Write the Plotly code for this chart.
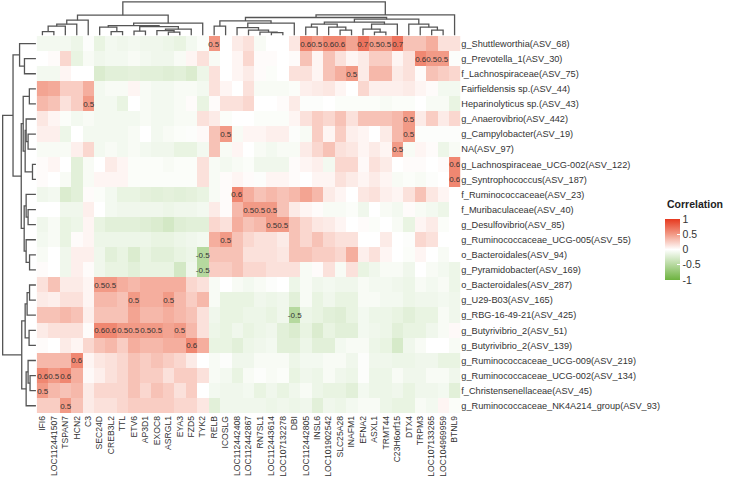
import plotly.graph_objects as go

col_labels = ["IFI6", "LOC112441507", "TSPAN7", "HCN2", "C3", "SEC24D", "CREB3L2", "TTL", "ETV6",
              "AP3D1", "EXOC8", "ASRGL1", "EYA3", "FZD5", "TYK2", "RELB", "ICOSLG", "LOC112442408",
              "LOC112442867", "RN7SL1", "LOC112443614", "LOC107132278", "DBI", "LOC112442805", "INSL6",
              "LOC101902542", "SLC25A28", "INAFM1", "EFNA2", "ASXL1", "TRMT44", "C23H6orf15", "DTX4",
              "TRPM3", "LOC107133265", "LOC104969959", "BTNL9"]

row_labels = ["g_Shuttleworthia(ASV_68)", "g_Prevotella_1(ASV_30)", "f_Lachnospiraceae(ASV_75)",
              "Fairfieldensis sp.(ASV_44)", "Heparinolyticus sp.(ASV_43)", "g_Anaerovibrio(ASV_442)",
              "g_Campylobacter(ASV_19)", "NA(ASV_97)", "g_Lachnospiraceae_UCG-002(ASV_122)",
              "g_Syntrophococcus(ASV_187)", "f_Ruminococcaceae(ASV_23)", "f_Muribaculaceae(ASV_40)",
              "g_Desulfovibrio(ASV_85)", "g_Ruminococcaceae_UCG-005(ASV_55)", "o_Bacteroidales(ASV_94)",
              "g_Pyramidobacter(ASV_169)", "o_Bacteroidales(ASV_287)", "g_U29-B03(ASV_165)",
              "g_RBG-16-49-21(ASV_425)", "g_Butyrivibrio_2(ASV_51)", "g_Butyrivibrio_2(ASV_139)",
              "g_Ruminococcaceae_UCG-009(ASV_219)", "g_Ruminococcaceae_UCG-002(ASV_134)",
              "f_Christensenellaceae(ASV_45)", "g_Ruminococcaceae_NK4A214_group(ASV_93)"]

r00 = [-0.08,-0.08,-0.08,-0.12,-0.02, -0.15,-0.08,-0.1,-0.08,-0.1,-0.1,-0.12,-0.15,-0.08,-0.03, 0.52, 0.0,0.1,0.15,-0.05,0.0,0.0,0.12, 0.6,0.5,0.6,0.6,0.45, 0.7,0.5,0.5,0.7, 0.3,0.3,0.4,0.15,0.15]
r01 = [0.0,0.02,0.2,-0.15,-0.05, -0.1,-0.08,-0.08,-0.05,-0.08,-0.1,-0.1,-0.05,0.05,0.15, -0.05, 0.0,0.05,0.2,0.02,0.02,0.0,0.02, 0.3,0.05,0.3,0.15,0.05, 0.1,0.25,0.25,0.05, 0.15,0.6,0.5,0.5,-0.02]
r02 = [-0.08,-0.08,0.05,0.0,0.0, -0.25,-0.2,-0.2,-0.18,-0.2,-0.2,-0.22,-0.2,-0.25,-0.12, 0.15, 0.0,0.05,0.1,0.02,-0.03,0.0,0.15, 0.15,0.05,0.3,0.4,0.5, 0.1,0.35,0.35,0.1, 0.15,0.02,0.3,0.25,0.2]
r03 = [0.45,0.42,0.25,0.25,0.4, -0.08,-0.05,-0.05,0.05,-0.05,-0.08,-0.08,-0.05,-0.05,-0.08, 0.15, 0.05,0.0,0.15,-0.05,-0.05,-0.05,-0.03, 0.08,0.1,0.12,0.05,0.0, 0.2,0.08,0.08,0.08, 0.1,0.05,0.02,-0.08,-0.08]
r04 = [0.35,0.3,0.15,0.25,0.5, -0.08,-0.08,-0.15,0.0,-0.05,-0.08,-0.08,-0.05,0.02,-0.15, 0.02, 0.15,0.15,0.2,0.0,0.0,0.02,0.1, -0.02,-0.02,0.0,-0.03,-0.03, -0.03,-0.03,-0.05,-0.03, -0.03,0.0,-0.05,-0.05,-0.15]
r05 = [0.12,0.05,-0.03,-0.08,-0.05, -0.08,-0.08,-0.08,-0.08,-0.05,-0.08,-0.08,-0.05,-0.05,0.15, 0.1, -0.03,0.0,0.0,-0.03,-0.03,-0.03,0.05, 0.15,0.25,0.2,0.3,0.15, 0.3,0.3,0.3,0.35, 0.5,0.1,0.25,0.1,0.2]
r06 = [0.08,0.08,-0.12,0.0,-0.08, -0.08,-0.08,-0.08,-0.05,0.0,-0.08,-0.05,-0.03,-0.02,0.03, 0.3, 0.5,-0.05,0.05,0.05,0.08,0.08,-0.02, -0.05,0.25,0.05,0.25,0.08, 0.05,0.0,0.1,0.35, 0.5,-0.02,-0.02,-0.02,-0.02]
r07 = [-0.05,-0.05,-0.05,0.08,0.2, -0.08,-0.05,-0.08,-0.05,-0.08,-0.1,-0.1,-0.15,-0.15,-0.08, 0.3, -0.05,0.05,0.0,-0.05,-0.08,-0.05,-0.05, 0.1,0.2,0.3,0.15,0.12, 0.05,0.1,0.05,0.5, -0.05,0.05,0.02,-0.12,-0.05]
r08 = [0.02,0.05,0.0,-0.2,-0.05, 0.0,0.1,0.05,-0.03,-0.03,-0.03,-0.05,-0.03,-0.03,0.15, -0.05, -0.08,-0.05,-0.03,-0.1,-0.1,-0.1,0.02, 0.05,0.08,-0.08,0.2,0.2, 0.03,0.15,0.1,0.0, 0.02,0.02,0.0,0.02,0.6]
r09 = [0.02,0.0,-0.05,-0.2,-0.05, 0.05,0.05,0.05,-0.03,-0.03,-0.03,-0.03,-0.03,-0.03,0.15, -0.05, 0.02,0.05,0.02,-0.02,0.05,0.05,0.02, 0.0,0.05,0.05,0.15,0.1, 0.05,0.1,0.05,-0.05, -0.03,-0.05,-0.02,0.0,0.6]
r10 = [-0.1,-0.08,-0.25,-0.2,0.02, -0.03,-0.08,-0.15,-0.15,-0.18,-0.2,-0.18,-0.2,-0.18,-0.15, -0.05, 0.02,0.6,0.4,0.3,0.35,0.3,0.35, 0.45,0.35,0.1,0.05,0.0, 0.12,0.15,0.08,0.05, 0.15,0.3,0.12,0.05,0.0]
r11 = [0.0,0.0,-0.1,-0.1,0.08, 0.0,-0.08,-0.1,-0.1,-0.1,-0.1,-0.12,-0.1,-0.1,-0.08, 0.1, 0.02,0.35,0.5,0.5,0.5,0.3,0.1, 0.05,0.02,-0.05,-0.05,-0.03, -0.1,0.0,-0.05,-0.08, 0.02,-0.05,-0.08,-0.12,0.0]
r12 = [-0.1,-0.05,-0.15,-0.12,0.05, -0.15,-0.2,-0.2,-0.2,-0.22,-0.25,-0.3,-0.22,-0.2,-0.2, 0.2, 0.15,0.4,0.3,0.35,0.5,0.5,0.3, 0.2,0.12,0.1,0.05,0.0, 0.02,-0.03,0.0,-0.05, -0.15,0.05,0.1,-0.03,0.0]
r13 = [-0.08,-0.05,-0.15,0.02,0.05, -0.12,-0.12,-0.12,-0.12,-0.12,-0.15,-0.15,-0.12,-0.1,-0.08, 0.4, 0.5,0.3,0.2,0.15,0.15,0.1,0.3, 0.2,0.3,0.2,0.15,0.15, 0.0,0.0,0.1,0.0, -0.02,0.2,0.15,0.0,0.0]
r14 = [-0.05,0.0,-0.1,0.08,0.08, -0.1,-0.2,-0.15,-0.25,-0.15,-0.2,-0.2,-0.15,-0.12,-0.5, 0.3, 0.3,0.3,0.15,0.15,0.15,0.12,0.3, 0.3,0.25,0.25,0.2,0.4, 0.08,0.15,0.05,0.0, -0.03,0.05,0.0,-0.05,0.0]
r15 = [0.02,0.0,-0.1,0.08,0.02, -0.1,-0.15,-0.15,-0.2,-0.15,-0.15,-0.15,-0.3,-0.1,-0.5, 0.25, 0.25,0.3,0.2,0.2,0.15,0.15,0.15, -0.05,0.02,0.15,-0.05,0.15, -0.15,-0.1,-0.05,-0.05, -0.1,0.0,-0.05,-0.08,-0.12]
r16 = [0.15,0.3,0.1,0.1,0.05, 0.5,0.5,0.4,0.35,0.4,0.4,0.4,0.4,0.2,0.15, -0.05, 0.0,-0.05,-0.08,-0.05,-0.02,0.0,-0.12, -0.05,-0.1,-0.08,-0.1,-0.1, -0.05,-0.08,-0.08,-0.1, -0.12,-0.05,-0.08,-0.05,-0.12]
r17 = [0.1,0.08,0.15,0.15,0.05, 0.35,0.35,0.3,0.5,0.4,0.4,0.5,0.35,0.25,0.35, -0.05, -0.15,-0.15,-0.15,-0.1,-0.12,-0.1,-0.2, -0.05,-0.15,-0.1,-0.15,-0.15, -0.05,-0.05,-0.08,-0.08, -0.12,-0.1,-0.1,-0.08,-0.1]
r18 = [0.3,0.3,0.35,0.3,0.08, 0.3,0.3,0.3,0.45,0.35,0.35,0.4,0.35,0.3,0.15, -0.1, -0.15,-0.15,-0.12,-0.12,-0.15,-0.1,-0.5, -0.12,-0.15,-0.2,-0.22,-0.15, -0.08,-0.12,-0.12,-0.15, -0.2,-0.15,-0.15,-0.05,-0.1]
r19 = [0.1,0.15,0.15,0.15,0.02, 0.6,0.6,0.5,0.5,0.5,0.5,0.45,0.5,0.35,0.15, -0.12, -0.15,-0.1,-0.15,-0.12,-0.1,-0.2,-0.25, -0.15,-0.25,-0.15,-0.2,-0.2, -0.08,-0.1,-0.12,-0.2, -0.15,-0.15,-0.1,-0.05,0.03]
r20 = [0.02,0.0,0.1,0.05,0.2, 0.3,0.35,0.25,0.4,0.35,0.35,0.4,0.4,0.6,0.4, -0.15, -0.15,-0.2,-0.12,-0.1,-0.08,-0.2,-0.2, -0.12,-0.2,-0.2,-0.08,-0.05, -0.05,-0.12,-0.15,-0.28, -0.1,-0.05,0.0,0.0,-0.05]
r21 = [0.35,0.35,0.35,0.6,0.05, 0.12,0.15,0.2,0.3,0.25,0.3,0.25,0.2,0.1,0.0, -0.05, -0.02,-0.1,-0.1,-0.05,-0.05,-0.05,-0.12, -0.08,-0.08,-0.05,-0.05,-0.1, -0.02,-0.1,-0.1,-0.12, -0.12,-0.1,-0.1,-0.15,-0.15]
r22 = [0.6,0.5,0.6,0.4,0.03, 0.08,0.15,0.2,0.3,0.25,0.25,0.15,0.25,0.25,0.15, -0.05, -0.08,-0.15,-0.05,-0.02,-0.05,-0.03,-0.15, -0.1,-0.12,-0.05,-0.1,-0.12, -0.02,-0.12,-0.12,-0.05, -0.1,-0.1,-0.05,-0.05,-0.1]
r23 = [0.5,0.35,0.3,0.35,0.1, 0.2,0.2,0.2,0.3,0.2,0.3,0.25,0.15,0.25,0.0, -0.08, -0.1,-0.1,-0.08,-0.15,-0.1,-0.15,-0.1, -0.05,-0.12,-0.15,-0.15,-0.2, -0.08,-0.12,-0.12,-0.1, -0.15,-0.1,-0.1,-0.08,-0.2]
r24 = [0.25,0.25,0.5,0.3,0.1, 0.15,0.15,0.2,0.25,0.25,0.25,0.25,0.2,0.2,0.12, -0.2, -0.1,-0.1,-0.1,-0.1,-0.12,-0.1,-0.12, -0.1,-0.2,-0.1,-0.12,-0.08, -0.05,-0.05,-0.12,-0.15, -0.15,-0.05,-0.08,0.05,-0.03]

corr = [r00, r01, r02, r03, r04, r05, r06, r07, r08, r09, r10, r11, r12,
        r13, r14, r15, r16, r17, r18, r19, r20, r21, r22, r23, r24]

# hierarchical-clustering merges: (child_a, child_b, height)
# ids < n are leaves, ids >= n refer to earlier merges (linkage-style)
col_merges = [
    (0, 1, 3.5), (37, 2, 9), (38, 3, 11), (39, 4, 15),
    (6, 7, 3.5), (5, 41, 8), (8, 9, 4), (11, 12, 3), (10, 44, 4.5), (45, 13, 6),
    (43, 46, 8.5), (42, 47, 9.5), (48, 14, 12), (40, 49, 20),
    (15, 16, 9), (20, 21, 2.5), (19, 52, 3), (18, 53, 5), (17, 54, 7.5), (55, 22, 12),
    (51, 56, 14.3), (23, 24, 8), (26, 27, 5), (25, 59, 8), (58, 60, 11),
    (29, 30, 3), (28, 62, 6), (63, 31, 11), (61, 64, 13),
    (34, 35, 5), (33, 66, 8), (32, 67, 11), (65, 68, 16), (57, 69, 17.7),
    (70, 36, 20.3), (50, 71, 33.3),
]
row_merges = [
    (1, 2, 11.7), (0, 25, 16.7), (3, 4, 6.7), (6, 7, 8), (5, 28, 10), (8, 9, 3.5),
    (29, 30, 11), (27, 31, 13), (11, 12, 8), (10, 33, 10), (14, 15, 6.5), (13, 35, 10),
    (34, 36, 12), (32, 37, 15), (26, 38, 23.4),
    (16, 17, 6.5), (18, 40, 9), (19, 20, 7), (41, 42, 11), (22, 23, 6), (21, 44, 8),
    (45, 24, 10), (43, 46, 14.5), (39, 47, 34),
]

legend_title = "Correlation"
legend_ticks = [-1, -0.5, 0, 0.5, 1]


def dendro(n, merges):
    pos = list(range(n))
    hts = [0.0] * n
    p, h = [], []
    for a, b, ht in merges:
        pa, pb = pos[a], pos[b]
        p += [pa, pa, pb, pb, None]
        h += [hts[a], ht, ht, hts[b], None]
        pos.append((pa + pb) / 2)
        hts.append(ht)
    return p, h


W, H = 729, 478
hx0, hx1 = 36.7 / W, 460.3 / W
hy0, hy1 = 1 - 413.3 / H, 1 - 36.0 / H

txt = [[(f"{v:.1f}" if abs(v) >= 0.5 else "") for v in row] for row in corr]

green, red = "#6DB33F", "#E6391F"
cscale = [[0, green], [0.25, "#B6D99F"], [0.5, "#FFFFFF"], [0.75, "#F29A86"], [1, red]]

fig = go.Figure()
fig.add_trace(go.Heatmap(
    z=corr, x=list(range(len(col_labels))), y=list(range(len(row_labels))),
    zmin=-1, zmax=1, colorscale=cscale, text=txt, texttemplate="%{text}",
    textfont=dict(size=8, color="#333333", family="Liberation Sans, Arial"),
    xaxis="x", yaxis="y", hoverinfo="skip",
    colorbar=dict(
        x=665 / W, xanchor="left", y=1 - 219 / H, yanchor="top",
        len=61, lenmode="pixels", thickness=15, thicknessmode="pixels",
        xpad=0, ypad=0, outlinewidth=0,
        tickvals=legend_ticks, ticktext=[f"{t:g}" for t in legend_ticks],
        ticks="inside", ticklen=3, tickcolor="white", tickwidth=1,
        tickfont=dict(size=10.5, color="#333333"),
    ),
))

cp, ch = dendro(len(col_labels), col_merges)
fig.add_trace(go.Scatter(x=cp, y=ch, mode="lines", xaxis="x2", yaxis="y2",
                         line=dict(color="#555555", width=1.3), hoverinfo="skip", showlegend=False))
rp, rh = dendro(len(row_labels), row_merges)
fig.add_trace(go.Scatter(x=rh, y=rp, mode="lines", xaxis="x3", yaxis="y3",
                         line=dict(color="#555555", width=1.3), hoverinfo="skip", showlegend=False))

n_c, n_r = len(col_labels), len(row_labels)
fig.update_layout(
    width=W, height=H, margin=dict(l=0, r=0, t=0, b=0, autoexpand=False),
    paper_bgcolor="white", plot_bgcolor="white", showlegend=False,
    font=dict(family="Liberation Sans, Arial, sans-serif", color="#333333"),
    xaxis=dict(domain=[hx0, hx1], range=[-0.5, n_c - 0.5], tickvals=list(range(n_c)),
               ticktext=col_labels, tickangle=-90, ticks="", showgrid=False, zeroline=False,
               showline=False, tickfont=dict(size=8.6, color="#333333"), anchor="y",
               ticklabelstandoff=0),
    yaxis=dict(domain=[hy0, hy1], range=[n_r - 0.5, -0.5], tickvals=list(range(n_r)),
               ticktext=row_labels, side="right", ticks="", showgrid=False, zeroline=False,
               showline=False, tickfont=dict(size=9.2, color="#333333"), anchor="x"),
    xaxis2=dict(domain=[hx0, hx1], range=[-0.5, n_c - 0.5], visible=False, anchor="y2"),
    yaxis2=dict(domain=[1 - 36 / H, 1 - 1 / H], range=[-0.8, 34.2], visible=False, anchor="x2"),
    xaxis3=dict(domain=[1 / W, 36.7 / W], range=[35.7, -0.8], visible=False, anchor="y3"),
    yaxis3=dict(domain=[hy0, hy1], range=[n_r - 0.5, -0.5], visible=False, anchor="x3"),
    annotations=[dict(text=f"<b>{legend_title}</b>", x=665 / W, y=1 - 204 / H,
                      xref="paper", yref="paper", xanchor="left", yanchor="middle",
                      showarrow=False, font=dict(size=10.5, color="#222222"))],
)

fig.write_html("out.html", config={"displayModeBar": False},
               post_script="document.body.style.margin='0';document.body.style.overflow='hidden';")
